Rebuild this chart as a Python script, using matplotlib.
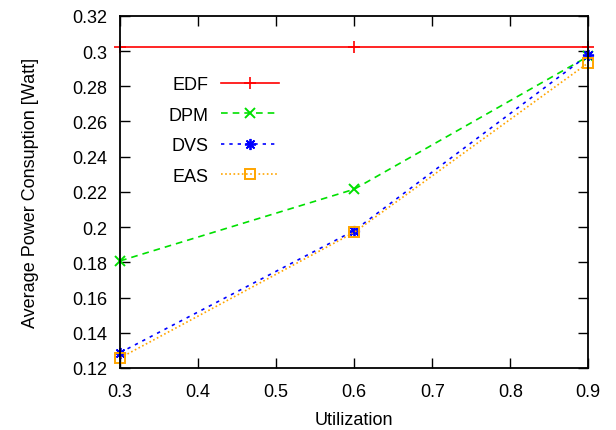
import matplotlib
matplotlib.use("Agg")
from matplotlib import pyplot as plt

plt.rcParams['font.family'] = ['Liberation Sans', 'DejaVu Sans']

util = [0.3, 0.6, 0.9]
edf = [0.3024, 0.3024, 0.3024]
dpm = [0.1808, 0.2215, 0.2970]
dvs = [0.1287, 0.1980, 0.2978]
eas = [0.1257, 0.1970, 0.2933]

xticks = [0.3, 0.4, 0.5, 0.6, 0.7, 0.8, 0.9]
xticklabels = ['0.3', '0.4', '0.5', '0.6', '0.7', '0.8', '0.9']
yticks = [0.12, 0.14, 0.16, 0.18, 0.2, 0.22, 0.24, 0.26, 0.28, 0.3, 0.32]
yticklabels = ['0.12', '0.14', '0.16', '0.18', '0.2', '0.22', '0.24', '0.26',
               '0.28', '0.3', '0.32']

fig = plt.figure(figsize=(6.16, 4.31), dpi=100)
ax = fig.add_axes([0.195, 0.144, 0.76, 0.817])

ax.plot(util, edf, color='#ff0000', linestyle='-', marker='+', markersize=8,
        markeredgewidth=1.2, linewidth=1.2, label='EDF', clip_on=False)
ax.plot(util, dpm, color='#00e000', linestyle=(0, (4, 3)), marker='x', markersize=6.5,
        markeredgewidth=1.4, linewidth=1.2, label='DPM', clip_on=False)
ax.plot(util, dvs, color='#0000ff', linestyle=(0, (2, 3)), marker=(8, 2, 0), markersize=8,
        markeredgewidth=1.3, linewidth=1.2, label='DVS', clip_on=False)
ax.plot(util, eas, color='#ffa500', linestyle=(0, (1, 1.5)), marker='s', markersize=7,
        markerfacecolor='none', markeredgewidth=1.4, linewidth=1.2, label='EAS',
        clip_on=False)

ax.set_xlim(0.3, 0.9)
ax.set_ylim(0.12, 0.32)
ax.set_xticks(xticks)
ax.set_xticklabels(xticklabels)
ax.set_yticks(yticks)
ax.set_yticklabels(yticklabels)
ax.tick_params(direction='in', top=True, right=True, length=7, width=1,
               labelsize=13)
ax.tick_params(axis='y', pad=9)
ax.tick_params(axis='x', pad=11)
for s in ax.spines.values():
    s.set_linewidth(1.3)

ax.set_xlabel('Utilization', fontsize=13, labelpad=8)
ax.set_ylabel('Average Power Consuption [Watt]', fontsize=13, labelpad=24)

leg = ax.legend(loc='upper right', bbox_to_anchor=(279 / 616, 1 - 77 / 431),
                bbox_transform=fig.transFigure, frameon=False,
                markerfirst=False, fontsize=13, handlelength=3.2,
                labelspacing=0.75, handletextpad=0.72, borderpad=0,
                borderaxespad=0)

fig.savefig('out.png', dpi=100)
